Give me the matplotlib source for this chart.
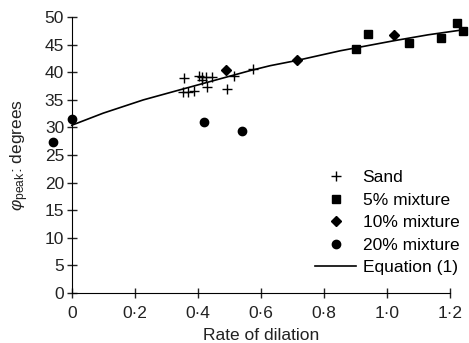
import numpy as np
import matplotlib.pyplot as plt

plt.rcParams['font.family'] = ['Liberation Sans', 'DejaVu Sans']
plt.rcParams['mathtext.fontset'] = 'custom'
plt.rcParams['mathtext.rm'] = 'Liberation Sans'
plt.rcParams['mathtext.it'] = 'Liberation Sans:italic'

# sand
sand_x = [0.357, 0.352, 0.370, 0.389, 0.404, 0.414, 0.425, 0.446, 0.412, 0.430, 0.493, 0.514, 0.576]
sand_y = [38.9, 36.5, 36.5, 36.7, 39.4, 39.2, 39.1, 39.2, 38.6, 37.4, 37.0, 39.4, 40.6]

# 5% mixture
m5_x = [0.90, 0.938, 1.069, 1.171, 1.222, 1.241]
m5_y = [44.2, 46.9, 45.3, 46.3, 49.0, 47.5]

# 10% mixture
m10_x = [0.488, 0.713, 1.022]
m10_y = [40.5, 42.2, 46.7]

# 20% mixture
m20_x = [0.0, -0.058, 0.419, 0.541]
m20_y = [31.6, 27.4, 30.9, 29.4]

# equation (1) curve
eq_x = [0.0, 0.1, 0.227, 0.316, 0.45, 0.565, 0.629, 0.718, 0.851, 1.019, 1.13, 1.24]
eq_y = [30.4, 32.6, 35.0, 36.4, 38.5, 40.3, 41.2, 42.2, 43.9, 45.7, 46.8, 47.7]

xticks = [0, 0.2, 0.4, 0.6, 0.8, 1.0, 1.2]
xticklabels = ['0', '0·2', '0·4', '0·6', '0·8', '1·0', '1·2']
yticks = np.arange(0, 51, 5)

fig = plt.figure(figsize=(4.69, 3.43), dpi=100)
ax = fig.add_axes([0.153, 0.146, 0.807, 0.804])

ax.plot(sand_x, sand_y, '+', color='k', markersize=7, mew=1.0, clip_on=False, label='Sand')
ax.plot(m5_x, m5_y, 's', color='k', markersize=6, clip_on=False, label='5% mixture')
ax.plot(m10_x, m10_y, 'D', color='k', markersize=5, clip_on=False, label='10% mixture')
ax.plot(m20_x, m20_y, 'o', color='k', markersize=6, clip_on=False, label='20% mixture')
ax.plot(eq_x, eq_y, '-', color='k', lw=1.2, clip_on=False, label='Equation (1)')

ax.set_xlim(0, 1.2)
ax.set_ylim(0, 50)
ax.set_xticks(xticks)
ax.set_xticklabels(xticklabels)
ax.set_yticks(yticks)
for s in ['top', 'right']:
    ax.spines[s].set_visible(False)
ax.tick_params(direction='inout', length=7, width=1, labelsize=12.5, colors='#222222')
ax.tick_params(axis='x', pad=6)
ax.tick_params(axis='y', pad=2)

ax.set_xlabel('Rate of dilation', fontsize=12.5, color='#222222', labelpad=5)
ax.set_ylabel(r'$\varphi_{\rm peak}$: degrees', fontsize=12.5, color='#222222', labelpad=10)

ax.legend(loc='lower right', bbox_to_anchor=(1.056, 0.02), frameon=False, fontsize=12.5,
          handlelength=2.4, handletextpad=0.35, labelspacing=0.42, borderpad=0.2)

fig.savefig('out.png', dpi=100)
